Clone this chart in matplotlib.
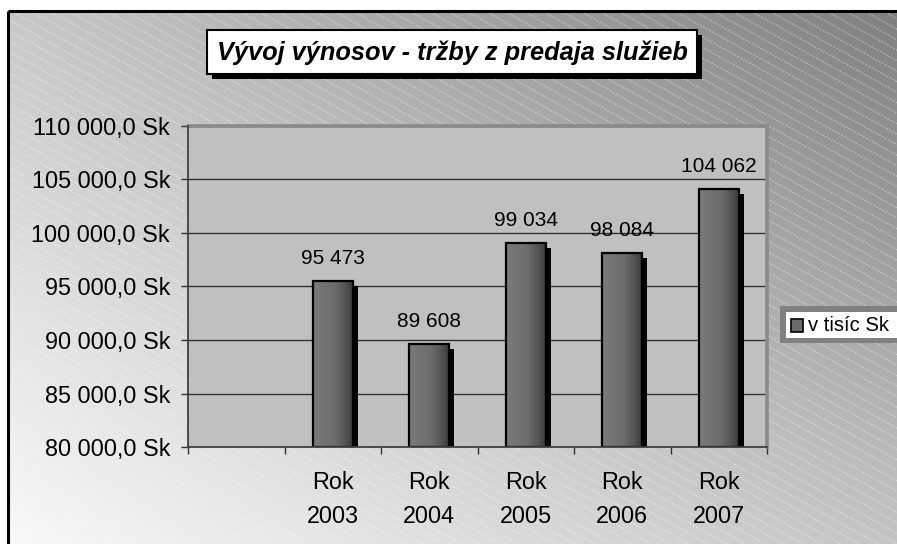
import numpy as np
import matplotlib
matplotlib.use("Agg")
import matplotlib.pyplot as plt
from matplotlib.patches import Rectangle
import matplotlib.patheffects as pe

# ---- data ----
categories = ["", "Rok\n2003", "Rok\n2004", "Rok\n2005", "Rok\n2006", "Rok\n2007"]
values = [None, 95473, 89608, 99034, 98084, 104062]
series_name = "v tisíc Sk"
title = "Vývoj výnosov - tržby z predaja služieb"
y_min, y_max, y_step = 80000, 110000, 5000

W, H = 897, 544
FONT = "Liberation Sans"
plt.rcParams["font.family"] = [FONT, "DejaVu Sans"]

fig = plt.figure(figsize=(W / 100, H / 100), dpi=100)
fig.patch.set_facecolor("white")

# ---- background (pixel coordinates) ----
bg = fig.add_axes([0, 0, 1, 1], zorder=-10)
bg.set_xlim(0, W)
bg.set_ylim(H, 0)
bg.axis("off")
x0, y0 = 8, 11
gx = np.linspace(0, 1, 200)
gy = np.linspace(0, 1, 200)
GX, GY = np.meshgrid(gx, gy)
tl, tr, bl, br = 200, 128, 248, 196
grad = (tl * (1 - GX) * (1 - GY) + tr * GX * (1 - GY) + bl * (1 - GX) * GY + br * GX * GY) / 255.0
bg.imshow(grad, cmap="gray", vmin=0, vmax=1, extent=(x0, W, H, y0), aspect="auto",
          interpolation="bilinear", zorder=0)
clip = Rectangle((x0, y0), W - x0, H - y0, transform=bg.transData, fill=False, lw=0)
bg.add_patch(clip)
slope = np.tan(np.radians(29))
xs = np.array([x0, W])
for c in np.arange(-600, 560, 10.5):
    ln, = bg.plot(xs, c + slope * (xs - x0), color="white", lw=0.9, alpha=0.38,
                  ls=(0, (1.5, 1.2)), zorder=1)
    ln.set_clip_path(clip)
# chart-area frame (left and top only visible)
bg.plot([x0, x0], [y0, H + 5], color="black", lw=2.2, zorder=2, solid_capstyle="butt")
bg.plot([x0, W + 5], [y0, y0], color="black", lw=2.2, zorder=2, solid_capstyle="butt")

# title box with shadow
tx0, ty0, tx1, ty1 = 207, 30, 697, 74
bg.add_patch(Rectangle((tx0 + 5, ty0 + 5), tx1 - tx0, ty1 - ty0, fc="black", ec="none", zorder=5))
bg.add_patch(Rectangle((tx0, ty0), tx1 - tx0, ty1 - ty0, fc="white", ec="black", lw=1.5, zorder=6))
bg.text((tx0 + tx1) / 2, (ty0 + ty1) / 2 + 1, title, ha="center", va="center",
        fontsize=18.3, fontweight="bold", fontstyle="italic", zorder=7)

# legend box
bg.add_patch(Rectangle((780, 305.7), 130, 37.6, fc="#808080", ec="none", zorder=5))
bg.add_patch(Rectangle((786, 311.7), 130, 26, fc="white", ec="none", zorder=6))
bg.add_patch(Rectangle((790.5, 318.5), 12, 13, fc="#6a6a6a", ec="black", lw=1.2, zorder=7))
bg.text(807.5, 325.5, series_name, ha="left", va="center", fontsize=14.6, zorder=7)

# ---- main axes ----
L, R, T, B = 188, 767, 125.5, 447.3
ax = fig.add_axes([L / W, 1 - B / H, (R - L) / W, (B - T) / H])
ax.set_facecolor("#c0c0c0")
n = len(categories)

yt = np.arange(y_min, y_max + 1, y_step)
ax.set_yticks(yt)
ax.set_yticklabels([f"{v:,.1f}".replace(",", " ").replace(".", ",") + " Sk" for v in yt])
ax.tick_params(axis="y", direction="out", length=5, width=1, color="#303030", pad=8,
               labelsize=16.8)
ax.yaxis.grid(True, color="#333333", lw=1)
ax.set_axisbelow(True)

ax.set_xticks(np.arange(-0.5, n, 1.0))
ax.set_xticklabels([])
ax.set_xticks(np.arange(n), minor=True)
ax.set_xticklabels(categories, minor=True, linespacing=1.6)
ax.tick_params(axis="x", which="major", direction="out", length=5, width=1, color="#303030")
ax.tick_params(axis="x", which="minor", length=0, pad=17, labelsize=16.8)

for s in ("left", "bottom"):
    ax.spines[s].set_color("#404040")
    ax.spines[s].set_linewidth(1.3)
    ax.spines[s].set_zorder(4)
for s in ("top", "right"):
    ax.spines[s].set_color("#8a8a8a")
    ax.spines[s].set_linewidth(2.6)

idx = [i for i, v in enumerate(values) if v is not None]
vals = [values[i] for i in idx]
heights = [v - y_min for v in vals]
bw = 0.41
bars = ax.bar(idx, heights, bottom=y_min, width=bw, color="#6e6e6e", edgecolor="none", zorder=3,
              path_effects=[pe.SimplePatchShadow(offset=(3.7, -3.7), shadow_rgbFace="black", alpha=1.0),
                            pe.Normal()])
cm = matplotlib.colors.LinearSegmentedColormap.from_list(
    "bar", [(0, "#7a7a7a"), (0.55, "#6c6c6c"), (0.85, "#505050"), (1.0, "#3a3a3a")])
grad_h = np.linspace(0, 1, 64).reshape(1, -1)
for b in bars:
    im = ax.imshow(grad_h, cmap=cm, vmin=0, vmax=1, aspect="auto",
                   extent=(b.get_x(), b.get_x() + b.get_width(), b.get_y(), b.get_y() + b.get_height()),
                   zorder=3.2)
    im.set_clip_path(b)
ax.bar(idx, heights, bottom=y_min, width=bw, fill=False, edgecolor="black", lw=1.6, zorder=3.5)
ax.set_xlim(-0.5, n - 0.5)
ax.set_ylim(y_min, y_max)

for i, v in zip(idx, vals):
    ax.annotate(f"{v:,}".replace(",", " "), (i, v), xytext=(0, 12.5), textcoords="offset points",
                ha="center", va="baseline", fontsize=15, zorder=5)

fig.savefig("out.png", dpi=100)
